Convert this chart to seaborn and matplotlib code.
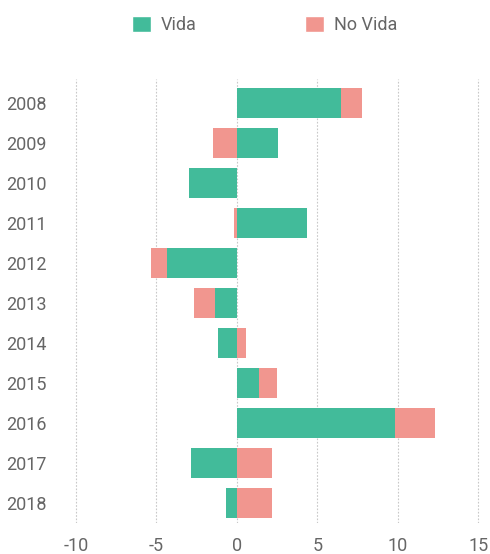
import numpy as np
import pandas as pd
import matplotlib
matplotlib.use("Agg")
import matplotlib.pyplot as plt
from matplotlib.patches import Patch
import seaborn as sns

years = ["2008", "2009", "2010", "2011", "2012", "2013", "2014", "2015", "2016", "2017", "2018"]
vida = [6.5, 2.55, -2.95, 4.35, -4.33, -1.35, -1.18, 1.37, 9.8, -2.85, -0.68]
no_vida = [1.3, -1.5, 0.0, -0.2, -1.0, -1.32, 0.56, 1.12, 2.5, 2.17, 2.17]

green = "#42bb9a"
salmon = "#f1968f"
grey = "#666666"

sns.set_style("white")
plt.rcParams["font.family"] = ["Roboto", "DejaVu Sans"]

# relative stacking: no vida sits beyond vida when both share a sign
outer = [v + n if v * n > 0 else n for v, n in zip(vida, no_vida)]
df = pd.DataFrame({"year": years, "vida": vida, "outer": outer})

fig = plt.figure(figsize=(4.9, 5.54), dpi=100)
ax = fig.add_axes([67.7 / 490, 31 / 554, (486.4 - 67.7) / 490, 444 / 554])

sns.barplot(data=df, x="outer", y="year", orient="h", color=salmon, saturation=1,
            width=0.75, linewidth=0, edgecolor="none", ax=ax)
sns.barplot(data=df, x="vida", y="year", orient="h", color=green, saturation=1,
            width=0.75, linewidth=0, edgecolor="none", ax=ax)

ax.set_xlim(-10.5, 15.5)
ax.set_ylim(10.5, -0.6)
ax.set_xticks([-10, -5, 0, 5, 10, 15])
ax.set_xticklabels(["-10", "-5", "0", "5", "10", "15"])
ax.xaxis.grid(True, color="#c8c8c8", linestyle=(0, (1.5, 1.5)), linewidth=0.8)
ax.set_axisbelow(True)
ax.set_xlabel("")
ax.set_ylabel("")
for s in ax.spines.values():
    s.set_visible(False)
ax.tick_params(axis="both", length=0, labelsize=13, colors=grey)
ax.tick_params(axis="y", pad=15)
ax.tick_params(axis="x", pad=10)

handles = [Patch(facecolor=green, label="Vida"), Patch(facecolor=salmon, label="No Vida")]
fig.legend(handles=handles, loc="center", bbox_to_anchor=(265 / 490, 1 - 25 / 554),
           ncol=2, frameon=False, fontsize=13, labelcolor=grey,
           handlelength=1.05, handleheight=1.05, handletextpad=0.55, columnspacing=6)

fig.savefig("out.png", dpi=100)
